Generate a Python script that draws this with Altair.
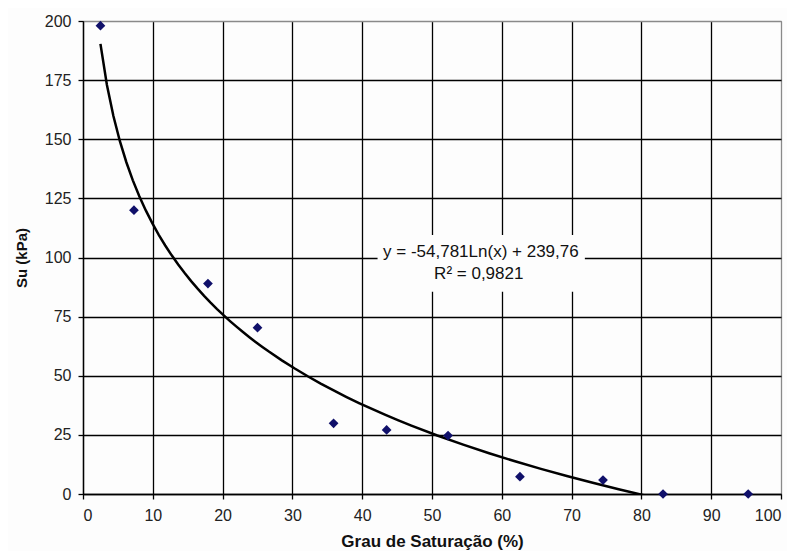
import altair as alt
import pandas as pd

# Data
saturacao = [2.5, 7.3, 17.9, 25.0, 35.9, 43.5, 52.3, 62.6, 74.5, 83.1, 95.3]
su_kpa = [198, 120, 89, 70.3, 29.9, 27.1, 24.7, 7.3, 5.9, 0, 0]
x_ticks = list(range(0, 101, 10))
y_ticks = list(range(0, 201, 25))
eq_text = ["y = -54,781Ln(x) + 239,76", "R² = 0,9821"]

FONT = "Liberation Sans"

df = pd.DataFrame({"sat": saturacao, "su": su_kpa})

x_scale = alt.Scale(domain=[0, 100], nice=False, zero=False)
y_scale = alt.Scale(domain=[0, 200], nice=False)

x_axis = alt.Axis(
    values=x_ticks, title="Grau de Saturação (%)",
    grid=True,
    gridColor={"condition": {"test": "datum.value === 100", "value": "#8a8a8a"}, "value": "#000000"},
    gridWidth=1.3, domainColor="#000000", domainWidth=1.3,
    tickColor="#000000", tickSize=5, tickWidth=1.3,
    labelFont=FONT, labelFontSize=16, labelColor="#222222", labelPadding=8,
    titleFont=FONT, titleFontSize=17, titleFontWeight="bold", titleColor="#111111",
    titlePadding=10,
)
y_axis = alt.Axis(
    values=y_ticks, title="Su (kPa)",
    grid=True,
    gridColor={"condition": {"test": "datum.value === 200", "value": "#8a8a8a"}, "value": "#000000"},
    gridWidth=1.3, domainColor="#000000", domainWidth=1.3,
    tickColor="#000000", tickSize=5, tickWidth=1.3,
    labelFont=FONT, labelFontSize=16, labelColor="#222222", labelPadding=7,
    titleFont=FONT, titleFontSize=15, titleFontWeight="bold", titleColor="#111111",
    titlePadding=15,
)

base = alt.Chart(df)

points = base.mark_point(shape="diamond", filled=True, size=95, color="#10106a", opacity=1).encode(
    x=alt.X("sat:Q", scale=x_scale, axis=x_axis),
    y=alt.Y("su:Q", scale=y_scale, axis=y_axis),
)

trend = base.transform_regression("sat", "su", method="log").mark_line(
    color="#000000", strokeWidth=2.5, clip=True
).encode(
    x=alt.X("sat:Q", scale=x_scale),
    y=alt.Y("su:Q", scale=y_scale),
)

box_df = pd.DataFrame({"x1": [42.2], "x2": [71.9], "y1": [85.5], "y2": [109.5]})
box = alt.Chart(box_df).mark_rect(color="#fdfdfd").encode(
    x=alt.X("x1:Q", scale=x_scale), x2="x2:Q",
    y=alt.Y("y1:Q", scale=y_scale), y2="y2:Q",
)

ann_df = pd.DataFrame({"t": eq_text, "x": [57.0, 56.7], "y": [102.4, 93.2]})
ann = alt.Chart(ann_df).mark_text(
    font=FONT, fontSize=17, color="#111111", align="center", baseline="middle"
).encode(
    x=alt.X("x:Q", scale=x_scale),
    y=alt.Y("y:Q", scale=y_scale),
    text="t:N",
)

chart = alt.layer(box, trend, points, ann).properties(
    width=698, height=473,
    autosize=alt.AutoSizeParams(type="none"),
    padding={"left": 75, "top": 13, "right": 6, "bottom": 57},
    background="#fdfdfd",
).configure_view(stroke="#8a8a8a", strokeWidth=1)

chart.save("out.html", embed_options={"renderer": "svg", "actions": False})
